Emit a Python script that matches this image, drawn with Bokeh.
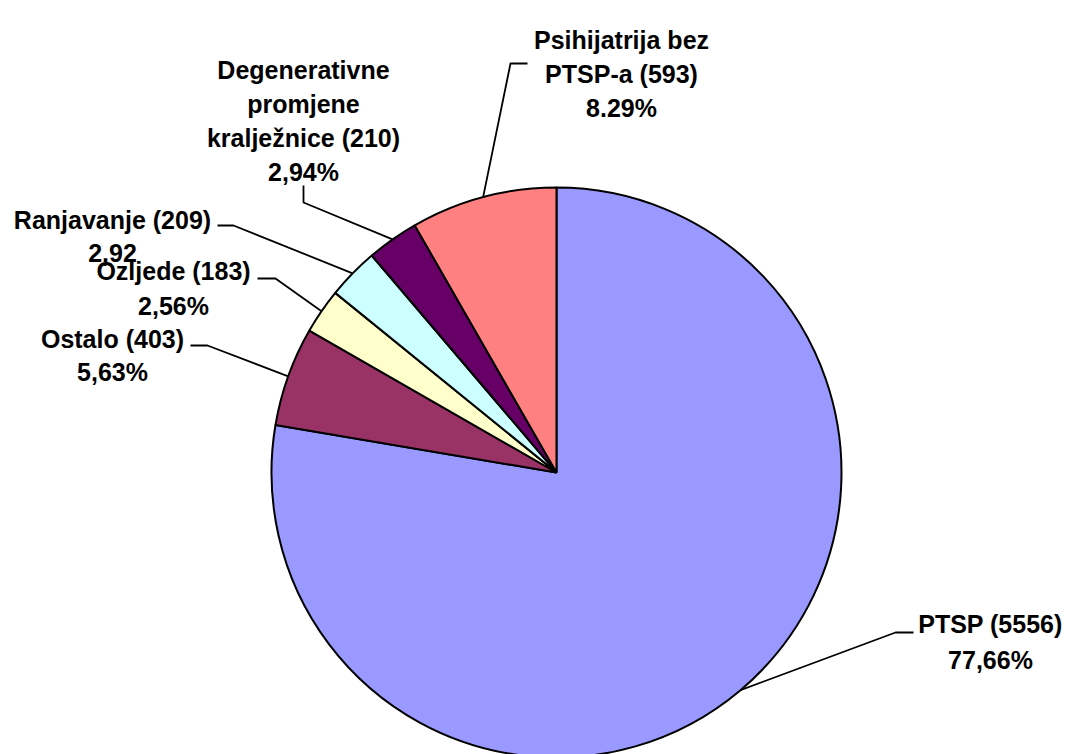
import math
from bokeh.plotting import figure
from bokeh.models import Range1d
from bokeh.core.properties import value
from bokeh.embed import file_html
from bokeh.resources import INLINE

# ---- data ----
categories = ["PTSP", "Ostalo", "Ozljede", "Ranjavanje",
              "Degenerativne promjene kralježnice", "Psihijatrija bez PTSP-a"]
counts = [5556, 403, 183, 209, 210, 593]
pct_labels = ["77,66%", "5,63%", "2,56%", "2,92", "2,94%", "8.29%"]
name_lines = [["PTSP"], ["Ostalo"], ["Ozljede"], ["Ranjavanje"],
              ["Degenerativne", "promjene", "kralježnice"],
              ["Psihijatrija bez", "PTSP-a"]]
colors = ["#9999FF", "#993366", "#FFFFCC", "#CCFFFF", "#660066", "#FF8080"]

# ---- layout (pixel coordinates of the picture) ----
W, H = 1069, 754
CX, CY, R = 556, 472, 285
FONT_PX = 25
# label anchor: centre x, first baseline y, line spacing
label_anchor = [(990, 623, 36), (112, 338, 33), (173, 270, 35),
                (112, 219, 33), (303, 69, 34.3), (621, 39, 34)]
# leader hook: (x at label side, x at bend, y at label side)
leader_hook = [(913, 895, 632), (190, 207, 345), (257, 275, 278),
               (217, 233, 225), (303, 303, 185), (527, 510, 63)]
leader_bend_y = [632, 345, 278, 225, 202, 63]

p = figure(width=W, height=H, output_backend="svg", toolbar_location=None,
           x_range=Range1d(0, W), y_range=Range1d(-H, 0),
           min_border=0, background_fill_color="white",
           border_fill_color="white", outline_line_color=None)
p.axis.visible = False
p.grid.visible = False

total = float(sum(counts))
cum = [0.0]
for c in counts:
    cum.append(cum[-1] + c / total)
start = [90 - cum[i] * 360 for i in range(len(counts))]
end = [90 - cum[i + 1] * 360 for i in range(len(counts))]

p.wedge(x=[CX] * len(counts), y=[-CY] * len(counts), radius=R,
        start_angle=start, end_angle=end, start_angle_units="deg",
        end_angle_units="deg", direction="clock",
        fill_color=colors, line_color="black", line_width=2)

# leader lines: label hook -> mid-angle point on the pie edge
xs, ys = [], []
for i in range(len(counts)):
    mid = math.radians((start[i] + end[i]) / 2)
    ex = CX + R * math.cos(mid)
    ey = CY - R * math.sin(mid)
    x1, x2, hy = leader_hook[i]
    by = leader_bend_y[i]
    xs.append([x1, x2, ex])
    ys.append([-hy, -by, -ey])
p.multi_line(xs=xs, ys=ys, line_color="black", line_width=1.8)

# labels
tx, ty, tt = [], [], []
for i in range(len(counts)):
    lines = list(name_lines[i])
    lines[-1] = f"{lines[-1]} ({counts[i]})"
    lines.append(pct_labels[i])
    ax, ay, sp = label_anchor[i]
    for j, s in enumerate(lines):
        tx.append(ax)
        ty.append(-(ay + j * sp))
        tt.append(s)
p.text(x=tx, y=ty, text=tt, text_align="center", text_baseline="alphabetic",
       text_font=value("Liberation Sans"), text_font_style="bold",
       text_font_size=f"{FONT_PX}px", text_color="black")

open("out.html", "w").write(file_html(p, INLINE))
